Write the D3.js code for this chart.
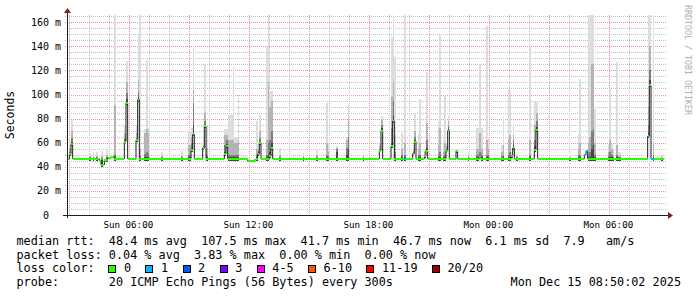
<!DOCTYPE html>
<html>
<head>
<meta charset="utf-8">
<script src="https://cdn.jsdelivr.net/npm/d3@7"></script>
<style>
  body { margin: 0; background: #fff; }
  svg text { font-family: "DejaVu Sans Mono", monospace; white-space: pre; }
</style>
</head>
<body>
<svg id="chart" width="697" height="297"></svg>
<script>
// time window shown on the graph
const viewStart = "Sun 02:53";
const viewEnd = "Mon 08:53";
const lastSample = "Mon 08:45";

// median rtt (ms) at each change point, with loss bucket index
const medianPts = [
  ["Sun 02:55", 46.7, 0], ["Sun 03:00", 50.4, 0], ["Sun 03:05", 58.7, 0], ["Sun 03:10", 46.7, 0],
  ["Sun 04:30", 44.8, 0], ["Sun 04:35", 41.7, 0], ["Sun 04:45", 45.6, 0], ["Sun 04:55", 47.0, 0],
  ["Sun 05:05", 48.4, 0], ["Sun 05:15", 46.7, 0], ["Sun 05:45", 61.0, 0], ["Sun 05:50", 93.0, 0],
  ["Sun 05:55", 46.7, 0], ["Sun 06:20", 62.0, 0], ["Sun 06:25", 95.7, 0], ["Sun 06:30", 46.7, 0],
  ["Sun 09:05", 54.0, 0], ["Sun 09:10", 67.0, 0], ["Sun 09:15", 46.7, 0], ["Sun 09:40", 55.6, 0],
  ["Sun 09:45", 73.6, 0], ["Sun 09:50", 46.7, 0], ["Sun 10:45", 50.5, 0], ["Sun 10:50", 57.0, 0],
  ["Sun 10:55", 46.7, 0], ["Sun 11:55", 45.0, 0], ["Sun 12:00", 44.5, 0], ["Sun 12:15", 45.5, 0],
  ["Sun 12:20", 46.7, 0], ["Sun 12:25", 50.6, 0], ["Sun 12:30", 59.8, 0], ["Sun 12:35", 46.7, 0],
  ["Sun 13:00", 48.7, 0], ["Sun 13:05", 55.6, 0], ["Sun 13:10", 46.7, 0], ["Sun 18:30", 53.4, 0],
  ["Sun 18:35", 70.0, 0], ["Sun 18:40", 46.7, 0], ["Sun 19:05", 57.0, 0], ["Sun 19:10", 78.0, 0],
  ["Sun 19:15", 46.7, 0], ["Sun 19:45", 46.7, 1], ["Sun 19:50", 46.7, 0], ["Sun 20:10", 50.9, 0],
  ["Sun 20:15", 61.0, 0], ["Sun 20:20", 46.7, 0], ["Sun 20:45", 48.7, 0], ["Sun 20:50", 53.4, 0],
  ["Sun 20:55", 46.7, 0], ["Sun 21:50", 53.4, 0], ["Sun 21:55", 70.0, 0], ["Sun 22:00", 46.7, 0],
  ["Sun 22:20", 53.0, 0], ["Sun 22:25", 46.7, 0], ["Sun 23:30", 48.5, 0], ["Sun 23:35", 46.7, 0],
  ["Mon 01:05", 49.0, 0], ["Mon 01:10", 55.6, 0], ["Mon 01:15", 46.7, 0], ["Mon 02:15", 54.0, 0],
  ["Mon 02:20", 70.8, 0], ["Mon 02:25", 46.7, 0], ["Mon 04:45", 50.0, 1], ["Mon 04:50", 53.0, 1],
  ["Mon 04:55", 46.7, 0], ["Mon 07:55", 65.3, 0], ["Mon 08:00", 107.6, 0], ["Mon 08:05", 46.7, 1],
  ["Mon 08:15", 46.7, 0]
];

// smoke columns: time, max ping, 18th, 15th, 12th ping (ms)
const smokeCols = [
  ["Sun 03:00", 62, 56, 52, 50], ["Sun 03:05", 79, 70, 64, 61], ["Sun 04:00", 51, 49, 48, 47],
  ["Sun 04:10", 52, 49, 48, 47], ["Sun 04:20", 52, 49, 48, 47], ["Sun 04:35", 53, 49, 47, 46],
  ["Sun 04:50", 54, 50, 48, 47], ["Sun 05:10", 52, 50, 49, 48], ["Sun 05:15", 170, 91, 50, 48],
  ["Sun 05:45", 75, 68, 64, 62], ["Sun 05:50", 128, 110, 101, 96], ["Sun 06:20", 75, 68, 64, 63],
  ["Sun 06:25", 150, 112, 102, 98], ["Sun 06:30", 170, 55, 49, 47], ["Sun 06:45", 71, 68, 51, 48],
  ["Sun 06:50", 129, 71, 52, 48], ["Sun 06:55", 72, 68, 51, 48], ["Sun 07:35", 52, 49, 48, 47],
  ["Sun 08:35", 53, 49, 48, 47], ["Sun 08:55", 69, 58, 50, 48], ["Sun 09:00", 69, 58, 50, 48],
  ["Sun 09:05", 72, 65, 60, 56], ["Sun 09:10", 140, 104, 93, 75], ["Sun 09:40", 62, 58, 57, 56],
  ["Sun 09:45", 125, 85, 78, 75], ["Sun 09:50", 74, 56, 50, 48], ["Sun 10:45", 71, 66, 58, 52],
  ["Sun 10:50", 71, 66, 62, 59], ["Sun 10:55", 83, 62, 50, 48], ["Sun 11:00", 83, 62, 50, 48],
  ["Sun 11:05", 83, 62, 50, 48], ["Sun 11:10", 123, 62, 50, 48], ["Sun 11:15", 65, 60, 50, 48],
  ["Sun 11:20", 65, 60, 50, 48], ["Sun 11:25", 100, 62, 50, 48], ["Sun 12:20", 78, 55, 50, 48],
  ["Sun 12:25", 60, 55, 53, 52], ["Sun 12:30", 83, 70, 64, 61], ["Sun 12:50", 140, 62, 50, 48],
  ["Sun 12:55", 170, 110, 60, 50], ["Sun 13:00", 103, 90, 62, 52], ["Sun 13:05", 103, 95, 70, 60],
  ["Sun 13:30", 56, 50, 48, 47], ["Sun 14:40", 51.5, 49, 48, 47], ["Sun 15:20", 54, 50, 48, 47],
  ["Sun 15:50", 93, 60, 50, 48], ["Sun 15:55", 60, 52, 49, 47], ["Sun 16:20", 57, 56, 55, 52],
  ["Sun 16:50", 64, 62, 56, 50], ["Sun 16:55", 91, 80, 65, 55], ["Sun 17:40", 51, 49, 48, 47],
  ["Sun 18:30", 60, 57, 55, 54], ["Sun 18:35", 82, 79, 75, 72], ["Sun 19:05", 148, 98, 72, 60],
  ["Sun 19:10", 170, 110, 95, 82], ["Sun 19:15", 131, 66, 52, 48], ["Sun 19:35", 68, 55, 50, 48],
  ["Sun 19:45", 170, 60, 50, 48], ["Sun 20:10", 55, 53, 52, 51], ["Sun 20:15", 84, 70, 65, 62],
  ["Sun 20:25", 67, 55, 50, 48], ["Sun 20:30", 96, 60, 50, 48], ["Sun 20:45", 55, 52, 50, 49],
  ["Sun 20:50", 119, 76, 62, 56], ["Sun 21:25", 78, 58, 50, 48], ["Sun 21:30", 149, 72, 52, 48],
  ["Sun 21:40", 62, 52, 49, 47], ["Sun 21:45", 100, 60, 50, 48], ["Sun 21:50", 60, 57, 55, 54],
  ["Sun 21:55", 82, 78, 74, 71], ["Sun 22:20", 55, 54, 53, 53], ["Sun 22:55", 52, 49, 48, 47],
  ["Sun 23:20", 72, 55, 50, 48], ["Sun 23:25", 72, 55, 50, 48], ["Sun 23:30", 125, 68, 52, 48],
  ["Sun 23:35", 72, 55, 50, 48], ["Sun 23:50", 157, 62, 50, 48], ["Sun 23:55", 64, 55, 50, 48],
  ["Mon 00:35", 58, 52, 49, 47], ["Mon 00:40", 81, 58, 50, 48], ["Mon 00:55", 104, 62, 50, 48],
  ["Mon 01:00", 104, 66, 52, 48], ["Mon 01:05", 52, 50, 49, 49], ["Mon 01:10", 75.5, 66, 62, 58],
  ["Mon 01:20", 51, 49, 48, 47], ["Mon 02:00", 140, 62, 50, 48], ["Mon 02:15", 94, 75, 62, 57],
  ["Mon 02:20", 94, 85, 78, 73], ["Mon 04:00", 50, 48, 47, 47], ["Mon 04:25", 67, 55, 50, 48],
  ["Mon 04:30", 113, 60, 50, 48], ["Mon 04:55", 170, 60, 50, 48], ["Mon 05:00", 170, 65, 52, 48],
  ["Mon 05:05", 170, 125, 70, 55], ["Mon 05:10", 170, 125, 71, 58], ["Mon 05:15", 88, 60, 50, 48],
  ["Mon 05:55", 59, 52, 49, 47], ["Mon 06:00", 105, 62, 52, 48], ["Mon 06:05", 59, 55, 50, 48],
  ["Mon 06:10", 55, 50, 48, 47], ["Mon 06:20", 127, 58, 50, 48], ["Mon 06:25", 52, 49, 48, 47],
  ["Mon 06:30", 52, 49, 48, 47], ["Mon 07:55", 170, 90, 75, 68], ["Mon 08:00", 170, 140, 120, 112],
  ["Mon 08:10", 170, 60, 50, 48], ["Mon 08:35", 50, 48, 47, 47]
];

const smokeGreys = ["#dddddd", "#b4b4b4", "#7d7d7d", "#464646"];

const lossLabels = ["0", "1", "2", "3", "4-5", "6-10", "11-19", "20/20"];
const lossColors = ["#26ff00", "#00b8ff", "#0059ff", "#7e00ff", "#ff00ff", "#ff5500", "#ff0000", "#a10000"];

const rttStats = "median rtt:  48.4 ms avg  107.5 ms max  41.7 ms min  46.7 ms now  6.1 ms sd  7.9   am/s";
const lossStats = "packet loss: 0.04 % avg  3.83 % max  0.00 % min  0.00 % now";
const probeText = "probe:       20 ICMP Echo Pings (56 Bytes) every 300s";
const stampText = "Mon Dec 15 08:50:02 2025";

const svg = d3.select("#chart");
const parseRaw = d3.timeParse("%Y-%m-%d %H:%M");
const parseT = s => parseRaw((s.slice(0, 3) === "Sun" ? "2025-12-14" : "2025-12-15") + s.slice(3));

const pL = 67, pR = 667, pT = 15, pB = 215;
const x = d3.scaleTime().domain([parseT(viewStart), parseT(viewEnd)]).range([pL, pR]);
const y = d3.scaleLinear().domain([0, 166]).range([pB, pT]);

const med = medianPts.map(d => ({ t: parseT(d[0]), v: d[1], loss: d[2] }));
const endT = parseT(lastSample);
const next5 = t => d3.timeMinute.offset(t, 5);
function medianAt(t) {
  let v = med[0].v;
  med.forEach(d => { if (d.t <= t) v = d.v; });
  return v;
}

svg.append("rect").attr("width", 697).attr("height", 297).attr("fill", "#fff");

svg.append("defs").append("clipPath").attr("id", "plot")
  .append("rect").attr("x", pL).attr("y", pT).attr("width", pR - pL).attr("height", pB - pT);

// grid
const grid = svg.append("g").attr("shape-rendering", "crispEdges");
d3.range(5, 166, 5).forEach(v => {
  const major = v % 20 === 0;
  grid.append("line")
    .attr("x1", pL - 2).attr("x2", pR)
    .attr("y1", Math.round(y(v)) + 0.5).attr("y2", Math.round(y(v)) + 0.5)
    .attr("stroke", major ? "#eb9595" : "#c4c4c4")
    .attr("stroke-dasharray", "1,1");
});
d3.timeHour.range(parseT(viewStart), parseT(viewEnd)).forEach(t => {
  const major = t.getHours() % 3 === 0;
  const xx = Math.round(x(t)) + 0.5;
  grid.append("line")
    .attr("x1", xx).attr("x2", xx).attr("y1", pT).attr("y2", pB + 2)
    .attr("stroke", major ? "#eb9595" : "#c4c4c4")
    .attr("stroke-dasharray", "1,1");
});

// smoke
const smoke = svg.append("g").attr("clip-path", "url(#plot)").attr("shape-rendering", "crispEdges");
smokeCols.forEach(c => {
  const t = parseT(c[0]);
  const low = medianAt(t) - 1.5;
  smokeGreys.forEach((g, k) => {
    const v = c[k + 1];
    smoke.append("rect")
      .attr("x", x(t)).attr("width", x(next5(t)) - x(t))
      .attr("y", y(v)).attr("height", y(low) - y(v))
      .attr("fill", g);
  });
});

// median line (black steps) and loss-coloured bars
const stepData = med.concat([{ t: endT, v: med[med.length - 1].v }]);
svg.append("path")
  .datum(stepData)
  .attr("fill", "none").attr("stroke", "#202020").attr("stroke-width", 1)
  .attr("d", d3.line().x(d => x(d.t)).y(d => y(d.v)).curve(d3.curveStepAfter));

svg.append("g").attr("shape-rendering", "crispEdges")
  .selectAll("rect").data(med).join("rect")
  .attr("x", d => x(d.t))
  .attr("width", (d, i) => x(i + 1 < med.length ? med[i + 1].t : endT) - x(d.t))
  .attr("y", d => y(d.v) - 1).attr("height", 2)
  .attr("fill", d => lossColors[d.loss]);

// axes
const axis = svg.append("g").attr("shape-rendering", "crispEdges");
axis.append("line").attr("x1", pL - 4).attr("x2", pR + 2).attr("y1", pB + 0.5).attr("y2", pB + 0.5)
  .attr("stroke", "#1f1f1f");
axis.append("line").attr("x1", pL + 0.5).attr("x2", pL + 0.5).attr("y1", pB + 3).attr("y2", pT - 3)
  .attr("stroke", "#1f1f1f");
svg.append("path").attr("d", `M${pR + 1},${pB - 3}L${pR + 6},${pB + 0.5}L${pR + 1},${pB + 4}Z`)
  .attr("fill", "#801f1f");
svg.append("path").attr("d", `M${pL - 3},${pT - 2}L${pL + 0.5},${pT - 7}L${pL + 4},${pT - 2}Z`)
  .attr("fill", "#801f1f");

// y labels
const yFont = 10, adv = yFont * 0.602;
d3.range(0, 166, 20).forEach(v => {
  svg.append("text")
    .attr("x", v === 0 ? 61 - 2 * adv : 61)
    .attr("y", y(v) + 3.5)
    .attr("text-anchor", "end")
    .attr("font-size", yFont)
    .text(v === 0 ? "0" : v + " m");
});

// x labels
const fmt = d3.timeFormat("%a %H:%M");
d3.timeHour.every(6).range(parseT(viewStart), parseT(viewEnd)).forEach(t => {
  svg.append("text")
    .attr("x", x(t) - 1).attr("y", 228)
    .attr("text-anchor", "middle")
    .attr("font-size", 9.2)
    .text(fmt(t));
});

// axis title and watermark
svg.append("text")
  .attr("transform", `translate(14,${(pT + pB) / 2}) rotate(-90)`)
  .attr("text-anchor", "middle").attr("font-size", 11.5)
  .text("Seconds");
svg.append("text")
  .attr("transform", "translate(685,5) rotate(90)")
  .attr("font-size", 8.3).attr("fill", "#b0b0b0")
  .text("RRDTOOL / TOBI OETIKER");

// legend
const lFont = 11.8, lAdv = 7.1, lx = 16.5;
const legend = svg.append("g").attr("font-size", lFont);
const line = (txt, yy) => legend.append("text").attr("x", lx).attr("y", yy)
  .attr("xml:space", "preserve").style("white-space", "pre").text(txt);
line(rttStats, 245);
line(lossStats, 258.5);
line("loss color:", 272.3);
line(probeText, 286);
legend.append("text").attr("x", 681).attr("y", 286).attr("text-anchor", "end").text(stampText);

let bx = 108.3;
lossLabels.forEach((lab, i) => {
  legend.append("rect")
    .attr("x", Math.round(bx) + 0.5).attr("y", 265.5).attr("width", 7).attr("height", 7)
    .attr("fill", lossColors[i]).attr("stroke", "#000").attr("stroke-width", 1)
    .attr("shape-rendering", "crispEdges");
  legend.append("text").attr("x", bx + 15.6).attr("y", 272.3).text(lab);
  bx += 15.6 + lab.length * lAdv + 14.4;
});
</script>
</body>
</html>
